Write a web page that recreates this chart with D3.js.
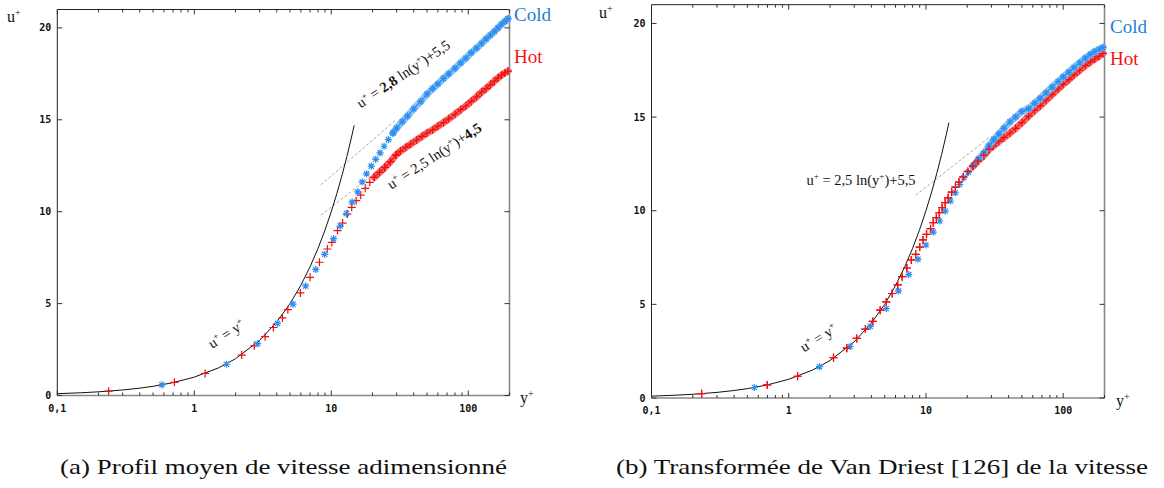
<!DOCTYPE html>
<html>
<head>
<meta charset="utf-8">
<script src="https://cdn.jsdelivr.net/npm/d3@7/dist/d3.min.js"></script>
<style>
  html, body { margin: 0; padding: 0; background: #fff; }
  svg { display: block; }
  .serif { font-family: "Liberation Serif", "Times New Roman", "DejaVu Serif", serif; }
  .mono { font-family: "DejaVu Sans Mono", "Liberation Mono", monospace; }
</style>
</head>
<body>
<svg id="chart" width="1164" height="488"></svg>
<script>
// ---------------- DATA ----------------
const xTickValues = [0.1, 1, 10, 100];
const xTickLabels = ["0,1", "1", "10", "100"];
const yTickValues = [0, 5, 10, 15, 20];
const yTickLabels = ["0", "5", "10", "15", "20"];
const seriesNames = ["Cold", "Hot"];

// Wall law u+ = y+
const wallLawYplus = [0.1, 0.15, 0.2, 0.3, 0.4, 0.5, 0.7, 1, 1.5, 2, 3, 4, 5, 6, 7, 8, 9, 10, 11, 12, 13, 14, 14.7];
const wallLawUplus = [0.1, 0.15, 0.2, 0.3, 0.4, 0.5, 0.7, 1, 1.5, 2, 3, 4, 5, 6, 7, 8, 9, 10, 11, 12, 13, 14, 14.7];

// (a) Profil moyen — Cold (sparse near wall, then dense band)
const aColdYplus = [0.58, 1.72, 2.9, 4.05, 5.25, 6.5, 7.7, 8.95, 10.4, 11.6, 12.9, 14.2, 15.6, 16.8, 18.1, 19.6, 21.1, 22.7, 24.3, 26.1, 28.2];
const aColdUplus = [0.58, 1.7, 2.82, 3.92, 4.97, 5.96, 6.86, 7.68, 8.53, 9.22, 9.9, 10.52, 11.08, 11.62, 12.06, 12.48, 12.85, 13.2, 13.56, 13.92, 14.28];
const aColdBandYplus = [28.2, 30, 33, 36, 40, 45, 50, 55, 60, 66, 72, 80, 88, 96, 105, 115, 125, 135, 145, 155, 165, 175, 185, 195];
const aColdBandUplus = [14.28, 14.55, 14.9, 15.2, 15.6, 16.0, 16.4, 16.7, 16.95, 17.25, 17.5, 17.8, 18.1, 18.35, 18.65, 18.9, 19.15, 19.4, 19.6, 19.8, 20.0, 20.2, 20.35, 20.5];

// (a) Hot
const aHotYplus = [0.237, 0.716, 1.2, 2.22, 2.74, 3.29, 3.78, 4.4, 4.82, 5.95, 7.0, 8.2, 9.35, 10.1, 11.1, 12.1, 13.1, 14.1, 15.2, 16.4, 17.7, 19.1, 20.6, 22.5, 24.6, 27.0, 29.6];
const aHotUplus = [0.237, 0.716, 1.2, 2.2, 2.7, 3.2, 3.7, 4.22, 4.67, 5.58, 6.43, 7.25, 7.97, 8.33, 8.97, 9.38, 9.87, 10.24, 10.6, 10.9, 11.27, 11.6, 11.87, 12.14, 12.41, 12.72, 13.08];
const aHotBandYplus = [20.6, 22.5, 24.6, 27.0, 29.6, 32, 35, 38, 42, 46, 50, 55, 60, 66, 72, 80, 88, 96, 105, 115, 125, 135, 145, 155, 165, 175, 185, 195];
const aHotBandUplus = [11.87, 12.14, 12.41, 12.72, 13.08, 13.3, 13.5, 13.68, 13.9, 14.1, 14.28, 14.45, 14.65, 14.85, 15.05, 15.3, 15.55, 15.75, 16.0, 16.25, 16.5, 16.7, 16.9, 17.1, 17.28, 17.43, 17.55, 17.65];

// (b) Van Driest — Cold
const bColdYplus = [0.562, 1.68, 2.8, 3.93, 5.14, 6.3, 7.49, 8.75, 10.0, 11.3, 12.6, 13.8, 15.1, 16.4, 17.6, 18.9, 20.4, 22.2, 24.1, 26.4, 28.8, 31.2];
const bColdUplus = [0.56, 1.67, 2.75, 3.82, 4.78, 5.72, 6.59, 7.41, 8.17, 8.86, 9.45, 9.98, 10.52, 10.96, 11.4, 11.76, 12.06, 12.42, 12.74, 13.06, 13.45, 13.8];
const bColdBandYplus = [24.1, 26.4, 28.8, 31.2, 34, 37, 41, 45, 50, 56, 62, 68, 75, 83, 92, 100, 110, 120, 132, 145, 158, 170, 183, 195];
const bColdBandUplus = [12.74, 13.06, 13.45, 13.8, 14.1, 14.4, 14.75, 15.0, 15.3, 15.45, 15.75, 16.0, 16.3, 16.6, 16.9, 17.15, 17.4, 17.65, 17.9, 18.15, 18.35, 18.5, 18.62, 18.72];

// (b) Hot
const bHotYplus = [0.232, 0.697, 1.16, 2.12, 2.65, 3.13, 3.62, 4.1, 4.64, 5.14, 5.67, 6.22, 6.7, 7.26, 7.82, 8.42, 9.01, 9.52, 10.1, 10.8, 11.3, 11.9, 12.5, 13.1, 13.8, 14.5, 15.4, 16.4, 17.4, 18.7, 20.2, 22.0, 23.9, 26.4, 28.8];
const bHotUplus = [0.232, 0.697, 1.16, 2.15, 2.66, 3.18, 3.68, 4.09, 4.69, 5.13, 5.58, 6.04, 6.48, 6.94, 7.37, 7.67, 8.06, 8.44, 8.74, 9.04, 9.36, 9.63, 9.89, 10.16, 10.43, 10.69, 10.99, 11.26, 11.53, 11.81, 12.1, 12.38, 12.65, 12.95, 13.27];
const bHotBandYplus = [22.0, 23.9, 26.4, 28.8, 31, 34, 37, 41, 45, 50, 56, 62, 68, 75, 83, 92, 100, 110, 120, 132, 145, 158, 170, 183, 195];
const bHotBandUplus = [12.38, 12.65, 12.95, 13.27, 13.45, 13.7, 13.9, 14.15, 14.4, 14.7, 15.05, 15.35, 15.6, 15.9, 16.2, 16.5, 16.75, 17.0, 17.25, 17.5, 17.75, 17.95, 18.1, 18.25, 18.4];

// Log laws u+ = k ln(y+) + B  (dashed grey segments over the y+ range given)
const aLogLawK = [2.8, 2.5];
const aLogLawB = [5.5, 4.5];
const aLogLawRange = [[8.4, 30], [8.4, 21]];
const bLogLawK = [2.5];
const bLogLawB = [5.5];
const bLogLawRange = [[8.4, 29]];

// ---------------- DRAWING ----------------
const svg = d3.select("#chart");
const COLD = "#2e8ff0", COLD_TXT = "#1f7fd0", COLD_BAND = "#7fbff7";
const HOT = "#f01010", HOT_TXT = "#f41414", HOT_BAND = "#f46060";

const zip = (xs, ys) => xs.map((v, i) => [v, ys[i]]);

// parts: {t, sup, bold}; superscripts raised with dy, baseline restored on the next normal part
function richText(g, x, y, parts, opts) {
  const t = g.append("text")
    .attr("class", "serif")
    .attr("x", x).attr("y", y)
    .attr("font-size", opts.size)
    .attr("fill", "#111")
    .attr("text-anchor", opts.anchor || "middle");
  if (opts.rotate) t.attr("transform", `rotate(${opts.rotate},${x},${y})`);
  const rise = opts.size * 0.38;
  let raised = false;
  parts.forEach(p => {
    const s = t.append("tspan").text(p.t);
    if (p.sup) {
      s.attr("dy", raised ? 0 : -rise).attr("font-size", opts.size * 0.62);
      raised = true;
    } else {
      if (raised) { s.attr("dy", rise); raised = false; }
      if (p.bold) s.attr("font-weight", "bold");
    }
  });
  return t;
}

function panel(cfg) {
  const g = svg.append("g");
  const x = d3.scaleLog().domain([0.1, 200]).range([cfg.x0, cfg.x1]);
  const y = d3.scaleLinear().domain([0, 21]).range([cfg.y0, cfg.y1]);

  // frame
  g.append("line").attr("x1", cfg.x0).attr("x2", cfg.x1).attr("y1", cfg.y1).attr("y2", cfg.y1).attr("stroke", "#222").attr("stroke-width", 1);
  g.append("line").attr("x1", cfg.x0).attr("x2", cfg.x0).attr("y1", cfg.y1).attr("y2", cfg.y0).attr("stroke", "#222").attr("stroke-width", 1);
  g.append("line").attr("x1", cfg.x1).attr("x2", cfg.x1).attr("y1", cfg.y1).attr("y2", cfg.y0).attr("stroke", "#888").attr("stroke-width", 1.6);
  g.append("line").attr("x1", cfg.x0).attr("x2", cfg.x1).attr("y1", cfg.y0).attr("y2", cfg.y0).attr("stroke", "#888").attr("stroke-width", 1.6);

  // x ticks (inside, top & bottom, minor 2..9)
  const minor = [];
  [0.1, 1, 10, 100].forEach(d => { for (let k = 2; k <= 9; k++) { const v = d * k; if (v <= 200) minor.push(v); } });
  const tickG = g.append("g").attr("stroke", "#333").attr("stroke-width", 1);
  minor.forEach(v => {
    tickG.append("line").attr("x1", x(v)).attr("x2", x(v)).attr("y1", cfg.y0).attr("y2", cfg.y0 - 3);
    tickG.append("line").attr("x1", x(v)).attr("x2", x(v)).attr("y1", cfg.y1).attr("y2", cfg.y1 + 3);
  });
  xTickValues.forEach(v => {
    tickG.append("line").attr("x1", x(v)).attr("x2", x(v)).attr("y1", cfg.y0).attr("y2", cfg.y0 - 5);
    tickG.append("line").attr("x1", x(v)).attr("x2", x(v)).attr("y1", cfg.y1).attr("y2", cfg.y1 + 5);
  });
  yTickValues.forEach(v => {
    tickG.append("line").attr("x1", cfg.x0).attr("x2", cfg.x0 + 5).attr("y1", y(v)).attr("y2", y(v));
    tickG.append("line").attr("x1", cfg.x1).attr("x2", cfg.x1 - 5).attr("y1", y(v)).attr("y2", y(v));
  });

  // tick labels
  g.selectAll(".xt").data(xTickValues).enter().append("text")
    .attr("class", "mono")
    .attr("x", d => x(d)).attr("y", cfg.y0 + 16)
    .attr("text-anchor", "middle").attr("font-weight", "bold")
    .attr("font-size", 10).attr("fill", "#111")
    .text((d, i) => xTickLabels[i]);
  g.selectAll(".yt").data(yTickValues).enter().append("text")
    .attr("class", "mono")
    .attr("x", cfg.x0 - 6).attr("y", d => y(d) + 3.5)
    .attr("text-anchor", "end").attr("font-weight", "bold")
    .attr("font-size", 10).attr("fill", "#111")
    .text((d, i) => yTickLabels[i]);

  // axis labels
  richText(g, cfg.uLabel[0], cfg.uLabel[1], [{t: "u"}, {t: "+", sup: true}], {size: 16, anchor: "start"});
  richText(g, cfg.yLabel[0], cfg.yLabel[1], [{t: "y"}, {t: "+", sup: true}], {size: 16, anchor: "start"});

  const line = d3.line().x(d => x(d[0])).y(d => y(d[1]));

  // log laws (dashed grey)
  cfg.logK.forEach((k, i) => {
    const r = cfg.logRange[i];
    const pts = r.map(v => [v, k * Math.log(v) + cfg.logB[i]]);
    g.append("path").attr("d", line(pts)).attr("fill", "none")
      .attr("stroke", "#aaa").attr("stroke-width", 1).attr("stroke-dasharray", "3,2");
  });

  // wall law
  g.append("path").attr("d", line(zip(wallLawYplus, wallLawUplus)))
    .attr("fill", "none").attr("stroke", "#111").attr("stroke-width", 1);

  const plusPath = "M-4,0H4M0,-4V4";
  const starPath = "M-3.6,0H3.6M0,-3.6V3.6M-2.6,-2.6L2.6,2.6M-2.6,2.6L2.6,-2.6";

  function drawSeries(ys, us, bandYs, bandUs, color, bandColor, path) {
    g.append("path").attr("d", line(zip(bandYs, bandUs))).attr("fill", "none")
      .attr("stroke", bandColor).attr("stroke-width", 7).attr("stroke-linecap", "round").attr("opacity", 0.9);
    g.append("path").attr("d", line(zip(bandYs, bandUs))).attr("fill", "none")
      .attr("stroke", color).attr("stroke-width", 1.4).attr("opacity", 0.9);
    const pts = zip(ys, us).concat(zip(bandYs, bandUs));
    g.append("g").selectAll("path").data(pts).enter().append("path")
      .attr("d", path)
      .attr("transform", d => `translate(${x(d[0])},${y(d[1])})`)
      .attr("fill", "none").attr("stroke", color).attr("stroke-width", 1.2);
  }
  drawSeries(cfg.hotY, cfg.hotU, cfg.hotBY, cfg.hotBU, HOT, HOT_BAND, plusPath);
  drawSeries(cfg.coldY, cfg.coldU, cfg.coldBY, cfg.coldBU, COLD, COLD_BAND, starPath);
  if (cfg.hotOnTop) {
    g.append("g").selectAll("path").data(zip(cfg.hotY, cfg.hotU)).enter().append("path")
      .attr("d", plusPath)
      .attr("transform", d => `translate(${x(d[0])},${y(d[1])})`)
      .attr("fill", "none").attr("stroke", HOT).attr("stroke-width", 1.2);
  }

  // legend labels
  g.append("text").attr("class", "serif").attr("x", cfg.legend[0]).attr("y", cfg.legend[1])
    .attr("font-size", 19).attr("fill", COLD_TXT).text(seriesNames[0]);
  g.append("text").attr("class", "serif").attr("x", cfg.legend[0]).attr("y", cfg.legend[2])
    .attr("font-size", 19).attr("fill", HOT_TXT).text(seriesNames[1]);

  // annotations
  cfg.notes.forEach(n => richText(g, n.x, n.y, n.parts, {size: 14.5, rotate: n.rot}));

  // caption
  g.append("text").attr("class", "serif").attr("x", cfg.caption[0]).attr("y", cfg.caption[1])
    .attr("font-size", 21).attr("fill", "#111")
    .attr("textLength", cfg.caption[2]).attr("lengthAdjust", "spacingAndGlyphs")
    .text(cfg.captionText);
}

panel({
  x0: 57.3, x1: 509.5, y0: 395.5, y1: 9.5,
  coldY: aColdYplus, coldU: aColdUplus, coldBY: aColdBandYplus, coldBU: aColdBandUplus,
  hotY: aHotYplus, hotU: aHotUplus, hotBY: aHotBandYplus, hotBU: aHotBandUplus,
  logK: aLogLawK, logB: aLogLawB, logRange: aLogLawRange,
  uLabel: [7, 22], yLabel: [520, 403],
  legend: [514, 21, 63],
  notes: [
    {x: 229, y: 338, rot: -33, parts: [{t: "u"}, {t: "+", sup: true}, {t: " = y"}, {t: "+", sup: true}]},
    {x: 406, y: 78, rot: -34, parts: [{t: "u"}, {t: "+", sup: true}, {t: " = "}, {t: "2,8", bold: true}, {t: " ln(y"}, {t: "+", sup: true}, {t: ")+5,5"}]},
    {x: 437, y: 160, rot: -33, parts: [{t: "u"}, {t: "+", sup: true}, {t: " = 2,5 ln(y"}, {t: "+", sup: true}, {t: ")+"}, {t: "4,5", bold: true}]}
  ],
  caption: [60, 474, 447],
  captionText: "(a) Profil moyen de vitesse adimensionné"
});

panel({
  x0: 651.5, x1: 1104.5, y0: 398, y1: 4.7,
  coldY: bColdYplus, coldU: bColdUplus, coldBY: bColdBandYplus, coldBU: bColdBandUplus,
  hotY: bHotYplus, hotU: bHotUplus, hotBY: bHotBandYplus, hotBU: bHotBandUplus,
  hotOnTop: true,
  logK: bLogLawK, logB: bLogLawB, logRange: bLogLawRange,
  uLabel: [599, 18], yLabel: [1116, 406],
  legend: [1110, 33, 65],
  notes: [
    {x: 821, y: 342, rot: -32, parts: [{t: "u"}, {t: "+", sup: true}, {t: " = y"}, {t: "+", sup: true}]},
    {x: 861, y: 185, rot: 0, parts: [{t: "u"}, {t: "+", sup: true}, {t: " = 2,5 ln(y"}, {t: "+", sup: true}, {t: ")+5,5"}]}
  ],
  caption: [616, 474, 532],
  captionText: "(b) Transformée de Van Driest [126] de la vitesse"
});
</script>
</body>
</html>
